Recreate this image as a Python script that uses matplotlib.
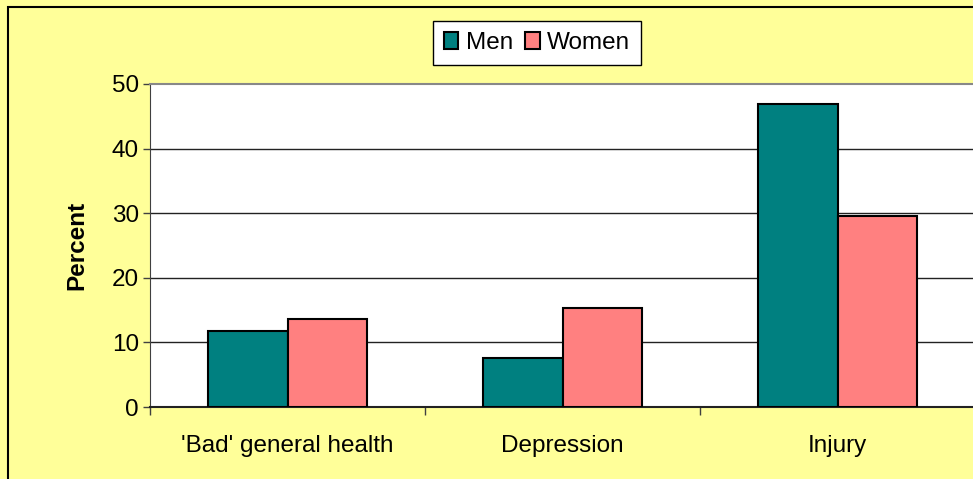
import matplotlib.pyplot as plt
import numpy as np
from matplotlib.patches import Rectangle

plt.rcParams['font.family'] = ['Liberation Sans', 'DejaVu Sans']

categories = ["'Bad' general health", "Depression", "Injury"]
men = [11.8, 7.6, 46.9]
women = [13.6, 15.3, 29.5]

fig = plt.figure(figsize=(9.73, 4.79), dpi=100)
fig.patch.set_facecolor('#FFFF99')

# outer chart border (cropped on right and bottom)
fig.patches.append(Rectangle((8/973, -0.05), 1.2, 1 - 7/479 + 0.05,
                             transform=fig.transFigure, fill=False,
                             edgecolor='black', linewidth=1.5))

ax = fig.add_axes([150/973, 1 - 407/479, 825/973, 323/479])
ax.set_facecolor('white')

x = np.arange(len(categories))
w = 0.29
ax.bar(x - w/2, men, w, color='#008080', edgecolor='black', linewidth=1.5, label='Men', zorder=3)
ax.bar(x + w/2, women, w, color='#FF8080', edgecolor='black', linewidth=1.5, label='Women', zorder=3)

fs = 17.5
ax.set_xlim(-0.5, 2.5)
ax.set_ylim(0, 50)
ax.set_yticks(range(0, 51, 10))
ax.tick_params(axis='y', labelsize=fs, length=5, color='#404040', width=1, pad=3)
ax.set_xticks([-0.5, 0.5, 1.5, 2.5])
ax.set_xticklabels([])
ax.set_xticks(x, minor=True)
ax.set_xticklabels(categories, minor=True, fontsize=fs)
ax.tick_params(axis='x', which='major', length=6, color='#404040', width=1)
ax.tick_params(axis='x', which='minor', length=0, pad=20)

for v in range(10, 50, 10):
    ax.axhline(v, color='#222222', linewidth=1, zorder=1)

ax.spines['left'].set_color('#404040')
ax.spines['bottom'].set_color('#222222')
ax.spines['bottom'].set_linewidth(1.5)
ax.spines['top'].set_color('#888888')
ax.spines['top'].set_linewidth(1.5)
ax.spines['right'].set_visible(False)

ax.set_ylabel('Percent', fontsize=fs, fontweight='bold', labelpad=17)

leg = fig.legend(loc='center', bbox_to_anchor=(537/973, 1 - 43/479), ncol=2,
                 fontsize=fs, frameon=True, fancybox=False, framealpha=1,
                 edgecolor='black', handlelength=0.6, handleheight=0.7,
                 handletextpad=0.3, columnspacing=0.5, borderpad=0.45)
leg.get_frame().set_linewidth(1)

fig.savefig('out.png', dpi=100, facecolor=fig.get_facecolor())
